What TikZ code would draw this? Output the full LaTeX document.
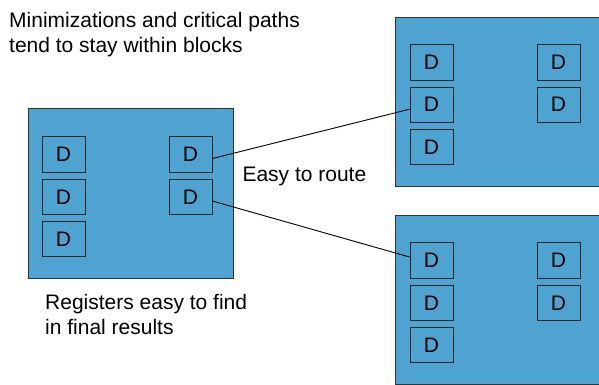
\documentclass[tikz,border=0pt]{standalone}
\usepackage{fontspec}
\setmainfont{Liberation Sans}
\definecolor{blockblue}{RGB}{79,163,209}
\tikzset{
  block/.style={draw=black!80, fill=blockblue, line width=1pt, inner sep=0pt, minimum width=205, minimum height=170},
  reg/.style={draw=black!85, line width=0.9pt, inner sep=0pt, minimum width=43, minimum height=35.5, font=\fontsize{21}{25}\selectfont},
  note/.style={anchor=base west, align=left, inner sep=0pt, font=\fontsize{21}{25}\selectfont}
}
\begin{document}
\begin{tikzpicture}[x=1pt, y=-1pt]
    \useasboundingbox (0,0) rectangle (599,384);

    % Draw the three blocks
    \node[block] (blkL) at (130.5, 193) {};
    \node[block, minimum height=169] (blkT) at (497.5, 101.5) {};
    \node[block, minimum height=169] (blkB) at (497.5, 299.5) {};

    % Draw registers of the left block
    \node[reg] (rL1) at (63.5, 154.5) {D};
    \node[reg] (rL2) at (63.5, 197) {D};
    \node[reg] (rL3) at (63.5, 239) {D};
    \node[reg] (rL4) at (190.5, 154.5) {D};
    \node[reg] (rL5) at (190.5, 197) {D};

    % Draw registers of the top right block
    \node[reg] (rT1) at (431.5, 62.5) {D};
    \node[reg] (rT2) at (431.5, 104.7) {D};
    \node[reg] (rT3) at (431.5, 147) {D};
    \node[reg] (rT4) at (558.5, 62.5) {D};
    \node[reg] (rT5) at (558.5, 104.7) {D};

    % Draw registers of the bottom right block
    \node[reg] (rB1) at (431.5, 260.5) {D};
    \node[reg] (rB2) at (431.5, 303) {D};
    \node[reg] (rB3) at (431.5, 345) {D};
    \node[reg] (rB4) at (558.5, 260.5) {D};
    \node[reg] (rB5) at (558.5, 303) {D};

    % Draw the routes between blocks
    \draw[line width=0.9pt] ([yshift=-4pt]rL4.east) -- ([yshift=-4.5pt]rT2.west);
    \draw[line width=0.9pt] ([yshift=-4pt]rL5.east) -- ([yshift=3.5pt]rB1.west);

    % Draw the notes (anchored at the baseline of the last line)
    \node[note] (noteTop) at (9, 52.3) {Minimizations and critical paths\\tend to stay within blocks};
    \node[note] (noteRoute) at (242.3, 181) {Easy to route};
    \node[note] (noteReg) at (45, 334) {Registers easy to find\\in final results};
\end{tikzpicture}
\end{document}
